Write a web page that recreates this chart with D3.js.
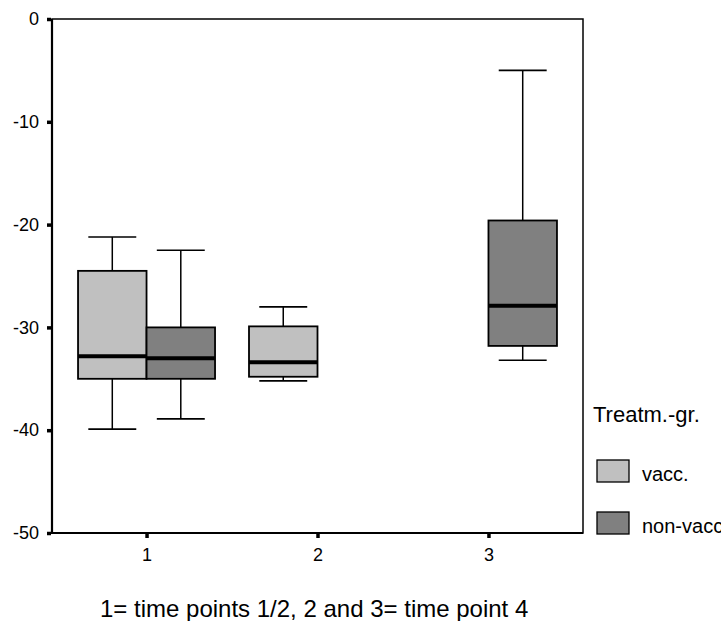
<!DOCTYPE html>
<html>
<head>
<meta charset="utf-8">
<script src="https://cdn.jsdelivr.net/npm/d3@7"></script>
<style>
  body { margin: 0; background: #fff; overflow: hidden; }
  svg { display: block; font-family: "Liberation Sans", Arial, Helvetica, sans-serif; }
</style>
</head>
<body>
<svg id="chart" width="721" height="621"></svg>
<script>
// Time-point groups on the x axis
const timeGroups = [1, 2, 3];
// Treatment groups and their fills
const treatments = ["vacc.", "non-vacc."];
const treatmentFills = ["#c0c0c0", "#808080"];
// Y axis ticks
const yTicks = [0, -10, -20, -30, -40, -50];

// Box summaries per treatment: whisker low, Q1, median, Q3, whisker high
const vaccGroups   = [1, 2];
const vaccLow      = [-39.9, -35.2];
const vaccQ1       = [-35.0, -34.8];
const vaccMedian   = [-32.8, -33.4];
const vaccQ3       = [-24.5, -29.9];
const vaccHigh     = [-21.2, -28.0];

const nonVaccGroups = [1, 3];
const nonVaccLow    = [-38.9, -33.2];
const nonVaccQ1     = [-35.0, -31.8];
const nonVaccMedian = [-33.0, -27.9];
const nonVaccQ3     = [-30.0, -19.6];
const nonVaccHigh   = [-22.5, -5.0];

const captionText = "1= time points 1/2, 2 and 3= time point 4";
const legendTitle = "Treatm.-gr.";

function buildBoxes(treatment, groups, low, q1, med, q3, high) {
  return groups.map((g, i) => ({
    treatment, group: g, low: low[i], q1: q1[i], median: med[i], q3: q3[i], high: high[i]
  }));
}
const boxes = [
  ...buildBoxes(treatments[0], vaccGroups, vaccLow, vaccQ1, vaccMedian, vaccQ3, vaccHigh),
  ...buildBoxes(treatments[1], nonVaccGroups, nonVaccLow, nonVaccQ1, nonVaccMedian, nonVaccQ3, nonVaccHigh)
];

const svg = d3.select("#chart");
const plot = { left: 52, right: 583, top: 19, bottom: 533 };
const font = "'Liberation Sans', Arial, sans-serif";

const x = d3.scalePoint()
  .domain(timeGroups)
  .range([plot.left, plot.right])
  .padding(0.553);

const boxWidth = 68.5;
const xInner = d3.scaleBand()
  .domain(treatments)
  .range([-boxWidth, boxWidth])
  .paddingInner(0)
  .paddingOuter(0);

const y = d3.scaleLinear()
  .domain([-50, 0])
  .range([plot.bottom, plot.top]);

const fill = d3.scaleOrdinal().domain(treatments).range(treatmentFills);

// Frame around the plotting region
svg.append("rect")
  .attr("x", plot.left).attr("y", plot.top)
  .attr("width", plot.right - plot.left).attr("height", plot.bottom - plot.top)
  .attr("fill", "none").attr("stroke", "#000").attr("stroke-width", 1.5);
svg.append("line")
  .attr("x1", plot.left).attr("x2", plot.left)
  .attr("y1", plot.top).attr("y2", plot.bottom + 1)
  .attr("stroke", "#000").attr("stroke-width", 2.2);
svg.append("line")
  .attr("x1", plot.left - 1).attr("x2", plot.right)
  .attr("y1", plot.bottom).attr("y2", plot.bottom)
  .attr("stroke", "#000").attr("stroke-width", 2.2);

// Y axis: small square ticks outside the frame
const yAxis = d3.axisLeft(y).tickValues(yTicks).tickSize(4).tickPadding(8).tickFormat(d => String(d));
const gy = svg.append("g").attr("transform", `translate(${plot.left - 1},0)`).call(yAxis);
gy.select(".domain").remove();
gy.selectAll(".tick line").attr("stroke", "#000").attr("stroke-width", 3.5);
gy.selectAll(".tick text").attr("font-size", 18).attr("fill", "#000").attr("font-family", font);

// X axis
const xAxis = d3.axisBottom(x).tickSize(4).tickPadding(10);
const gx = svg.append("g").attr("transform", `translate(0,${plot.bottom + 1})`).call(xAxis);
gx.select(".domain").remove();
gx.selectAll(".tick line").attr("stroke", "#000").attr("stroke-width", 3.5);
gx.selectAll(".tick text").attr("font-size", 18).attr("fill", "#000").attr("font-family", font);

// Box plots
const capWidth = boxWidth * 0.7;
const g = svg.append("g");
const box = g.selectAll("g.box").data(boxes).join("g")
  .attr("class", "box")
  .attr("transform", d => `translate(${x(d.group) + xInner(d.treatment)},0)`);

const cx = xInner.bandwidth() / 2;
// whisker stems
box.append("line")
  .attr("x1", cx).attr("x2", cx)
  .attr("y1", d => y(d.high)).attr("y2", d => y(d.q3))
  .attr("stroke", "#000").attr("stroke-width", 1.5);
box.append("line")
  .attr("x1", cx).attr("x2", cx)
  .attr("y1", d => y(d.q1)).attr("y2", d => y(d.low))
  .attr("stroke", "#000").attr("stroke-width", 1.5);
// whisker caps
box.append("line")
  .attr("x1", cx - capWidth / 2).attr("x2", cx + capWidth / 2)
  .attr("y1", d => y(d.high)).attr("y2", d => y(d.high))
  .attr("stroke", "#000").attr("stroke-width", 1.6);
box.append("line")
  .attr("x1", cx - capWidth / 2).attr("x2", cx + capWidth / 2)
  .attr("y1", d => y(d.low)).attr("y2", d => y(d.low))
  .attr("stroke", "#000").attr("stroke-width", 1.6);
// interquartile box
box.append("rect")
  .attr("x", 0).attr("width", xInner.bandwidth())
  .attr("y", d => y(d.q3)).attr("height", d => y(d.q1) - y(d.q3))
  .attr("fill", d => fill(d.treatment))
  .attr("stroke", "#000").attr("stroke-width", 1.8);
// median
box.append("line")
  .attr("x1", 0).attr("x2", xInner.bandwidth())
  .attr("y1", d => y(d.median)).attr("y2", d => y(d.median))
  .attr("stroke", "#000").attr("stroke-width", 4);

// Legend
const legend = svg.append("g").attr("transform", "translate(593,0)");
legend.append("text")
  .attr("x", 0).attr("y", 422)
  .attr("font-size", 22).attr("fill", "#000").attr("font-family", font)
  .text(legendTitle);
const items = legend.selectAll("g.item").data(treatments).join("g")
  .attr("class", "item")
  .attr("transform", (d, i) => `translate(4,${460 + i * 52})`);
items.append("rect")
  .attr("width", 32).attr("height", 22)
  .attr("fill", d => fill(d))
  .attr("stroke", "#000").attr("stroke-width", 1.3);
items.append("text")
  .attr("x", 45).attr("y", 21)
  .attr("font-size", 20).attr("fill", "#000").attr("font-family", font)
  .text(d => d);

// Caption under the x axis
svg.append("text")
  .attr("x", 100).attr("y", 617)
  .attr("font-size", 24).attr("fill", "#000").attr("font-family", font)
  .text(captionText);
</script>
</body>
</html>
